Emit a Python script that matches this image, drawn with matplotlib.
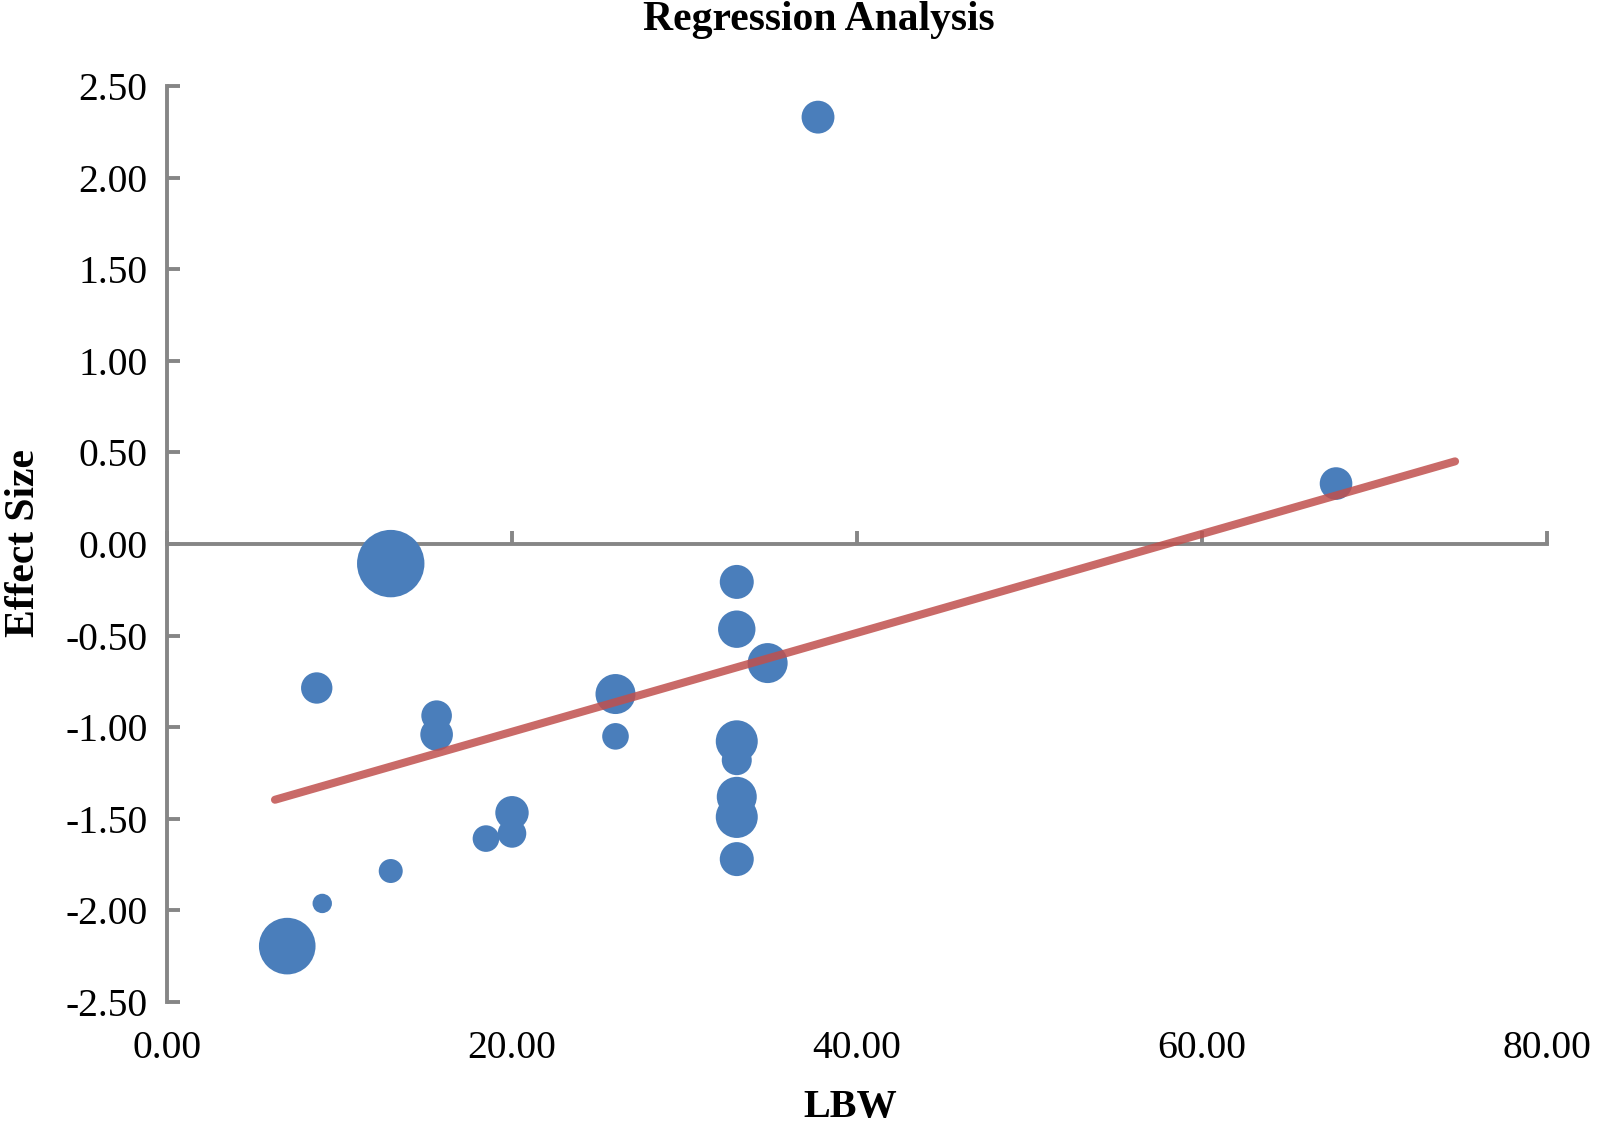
import matplotlib
matplotlib.use("Agg")
import matplotlib.pyplot as plt
import numpy as np

# ---- data ----
lbw = [37.74, 67.77, 12.97, 8.68, 15.63, 15.63, 26.0, 26.0, 33.03, 33.03, 34.82,
       33.03, 33.03, 33.03, 33.03, 33.03, 20.0, 20.0, 18.49, 12.97, 9.0, 6.97]
effect = [2.33, 0.33, -0.107, -0.786, -0.937, -1.04, -0.819, -1.05, -0.207, -0.465, -0.65,
          -1.077, -1.18, -1.38, -1.49, -1.72, -1.467, -1.58, -1.608, -1.785, -1.962, -2.195]
weight = [2.7, 2.66, 11.36, 2.46, 2.34, 2.66, 4.0, 1.77, 2.89, 3.5, 4.0,
          4.41, 2.25, 4.0, 4.41, 2.89, 2.79, 2.04, 1.77, 1.44, 0.94, 8.01]
fit_intercept = -1.565
fit_slope = 0.0270
fit_range = [6.26, 74.67]
x_ticks = [0, 20, 40, 60, 80]
y_ticks = [-2.5, -2.0, -1.5, -1.0, -0.5, 0.0, 0.5, 1.0, 1.5, 2.0, 2.5]

# ---- style ----
plt.rcParams['font.family'] = ['Liberation Serif', 'DejaVu Serif']
GRAY = '#868686'
BLUE = '#4A7EBB'
RED = '#C0504D'

fig = plt.figure(figsize=(16, 11.28), dpi=100)
rect = [167/1600, 1-1002/1128, 1380/1600, 916/1128]
ax = fig.add_axes(rect)

size_scale = 207.36
ax.scatter(lbw, effect, s=np.array(weight) * size_scale, color=BLUE,
           edgecolors='none', zorder=3)

fx = np.array(fit_range)
ax.plot(fx, fit_intercept + fit_slope * fx, color=RED, alpha=0.85, lw=5.8,
        solid_capstyle='round', zorder=4)

ax.set_xlim(0, 80)
ax.set_ylim(-2.5, 2.5)

for s in ['top', 'right']:
    ax.spines[s].set_visible(False)
for s in ['left', 'bottom']:
    ax.spines[s].set_color(GRAY)
    ax.spines[s].set_linewidth(2.8)
ax.spines['bottom'].set_position(('data', 0))

ax.set_yticks(y_ticks)
ax.set_yticklabels([f"{v:.2f}" for v in y_ticks])
ax.tick_params(axis='y', direction='in', length=9.5, width=2.8, color=GRAY,
               labelsize=28.5, pad=14)
ax.set_xticks(x_ticks)
ax.tick_params(axis='x', direction='in', length=9.5, width=2.8, color=GRAY,
               labelbottom=False)

# overlay axes carrying the x tick labels at the bottom of the plot
ax2 = fig.add_axes(rect, sharex=ax)
ax2.patch.set_visible(False)
for s in ax2.spines.values():
    s.set_visible(False)
ax2.set_yticks([])
ax2.set_xticks(x_ticks)
ax2.set_xticklabels([f"{v:.2f}" for v in x_ticks])
ax2.tick_params(axis='x', length=0, labelsize=28.5, pad=20)

fig.text(850/1600, 1-1117/1128, 'LBW', ha='center', va='baseline',
         fontsize=29, fontweight='bold')
fig.text(24/1600, 1-543/1128, 'Effect Size', ha='center', va='center',
         rotation=90, fontsize=30, fontweight='bold')
fig.text(819/1600, 1-30/1128, 'Regression Analysis', ha='center', va='baseline',
         fontsize=30, fontweight='bold')

fig.savefig('out.png', dpi=100)
